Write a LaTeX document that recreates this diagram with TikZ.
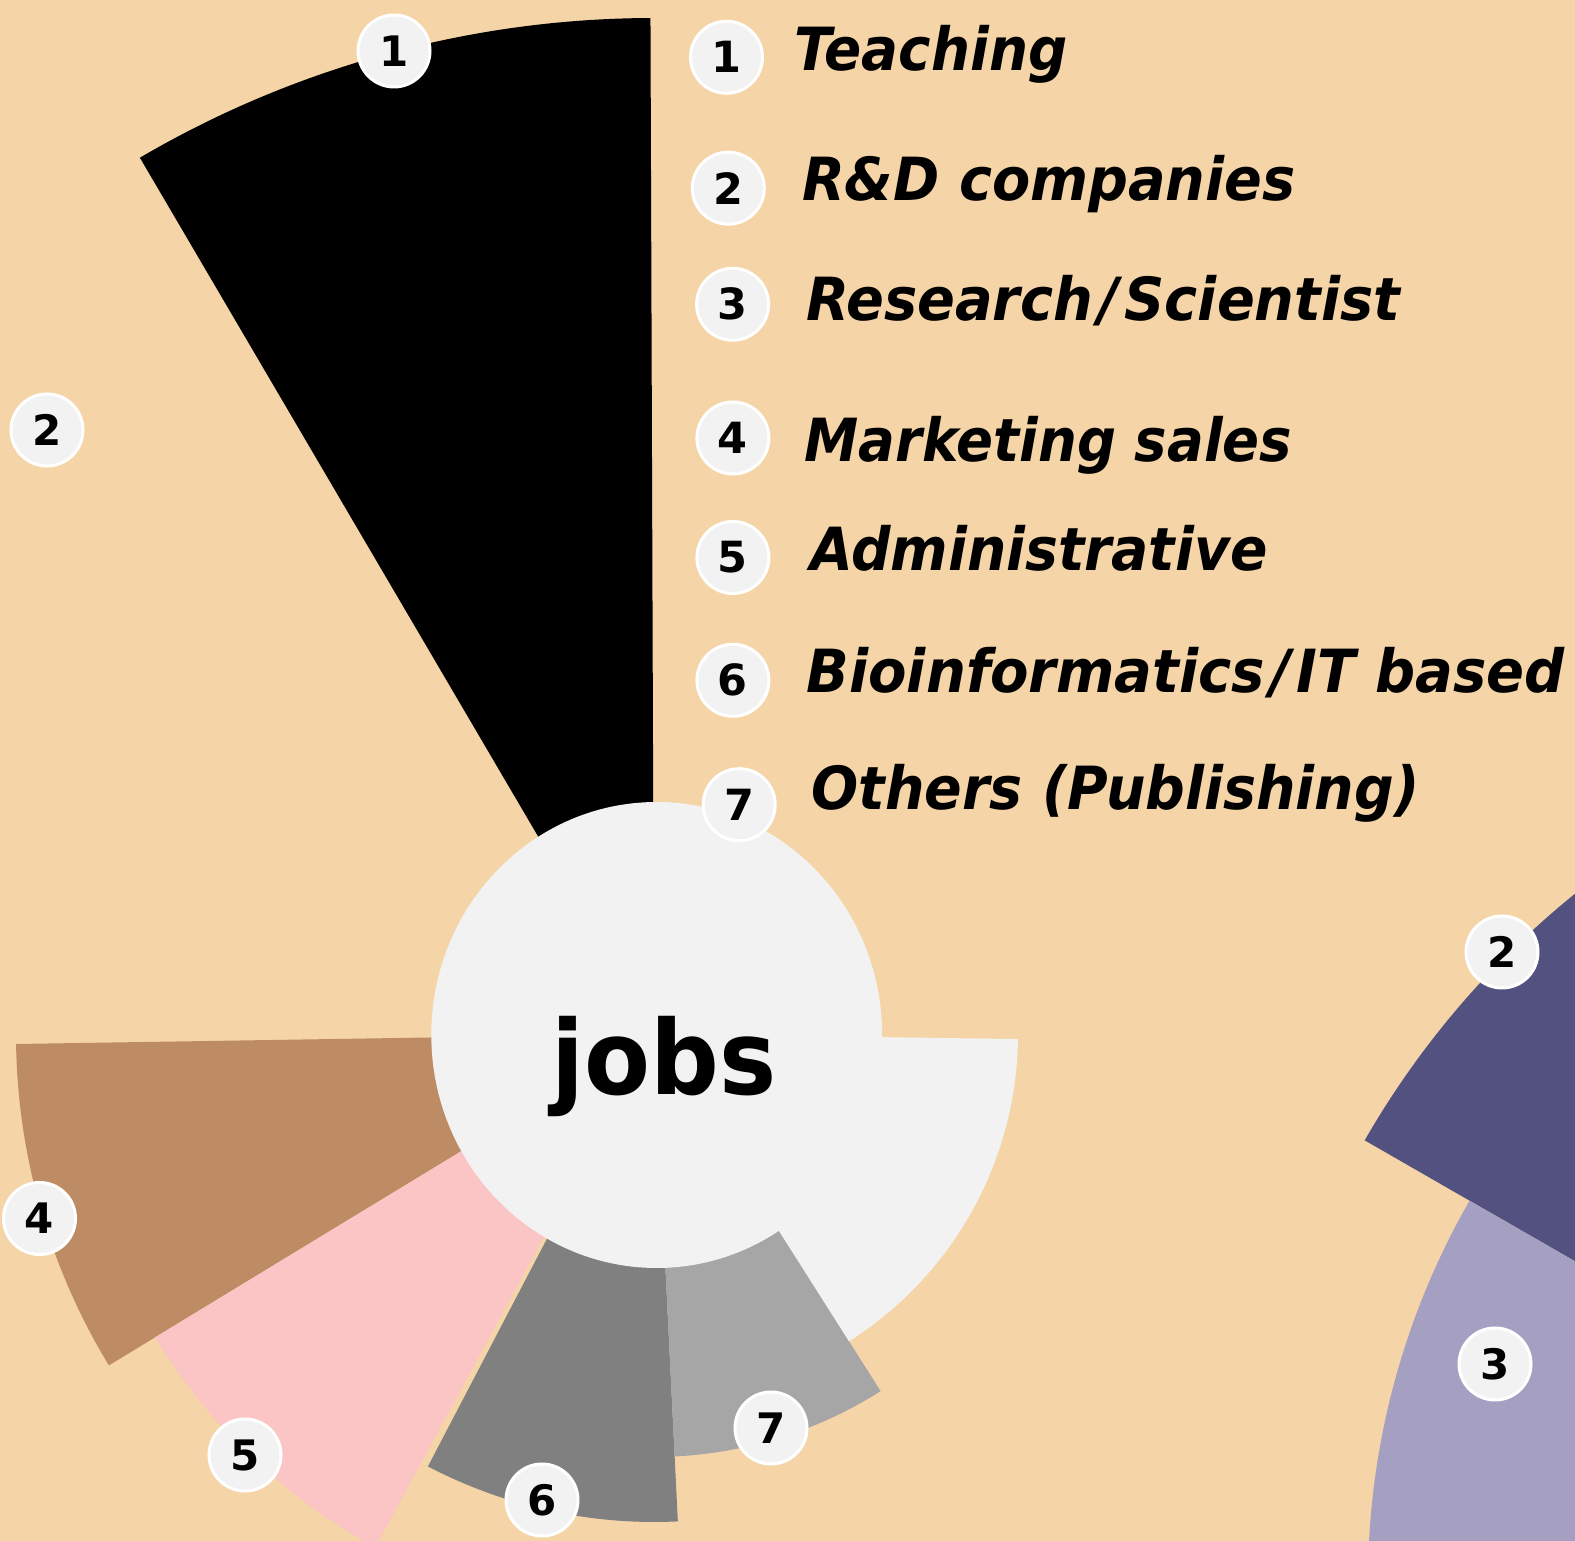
\documentclass[tikz,border=0pt]{standalone}
\usepackage{fontspec}
\usepackage{graphicx}
\newfontfamily\djv{DejaVu Sans}
\definecolor{bgc}{HTML}{F5D5A7}
\definecolor{lgc}{HTML}{F2F2F2}
\definecolor{brownc}{HTML}{BE8C64}
\definecolor{pinkc}{HTML}{FBC4C5}
\definecolor{dgrey}{HTML}{808080}
\definecolor{mgrey}{HTML}{A6A6A6}
\definecolor{dpurp}{HTML}{52517F}
\definecolor{lpurp}{HTML}{A5A0C1}
\newcommand\wslash{\kern3pt/\kern3pt}
\begin{document}
\begin{tikzpicture}[x=0.5pt,y=0.5pt,
  numlbl/.style={circle,fill=lgc,draw=white,line width=1.5pt,minimum size=36pt,inner sep=0pt,
    font=\djv\bfseries\fontsize{21pt}{21pt}\selectfont},
  leglbl/.style={numlbl,font=\djv\bfseries\fontsize{21.5pt}{21.5pt}\selectfont},
  legtext/.style={anchor=base west,inner sep=0pt,
    font=\djv\bfseries\itshape\fontsize{29.75pt}{30pt}\selectfont}]
\useasboundingbox (0,0) rectangle (1575,1541);
\fill[bgc] (0,0) rectangle (1575,1541);
\coordinate (C1) at (654,507);
\coordinate (C2) at (2131,-40);
\coordinate (E1) at (656.7,506);
% second chart, partly visible
\begin{scope}
\clip (0,0) rectangle (1575,1541);
\fill[dpurp] (C2) -- ++(120:884) arc[start angle=120,end angle=150.1,radius=884] -- cycle;
\fill[lpurp] (C2) -- ++(150.1:763) arc[start angle=150.1,end angle=180,radius=763] -- cycle;
% first chart
\fill[black] (C1) -- ++(90.2:1016) arc[start angle=90.2,end angle=120.4,radius=1016] -- cycle;
\fill[brownc] (C1) -- ++(180.9:638) arc[start angle=180.9,end angle=211.3,radius=638] -- cycle;
\fill[pinkc] (C1) -- ++(211.3:584) arc[start angle=211.3,end angle=241.5,radius=584] -- cycle;
\fill[dgrey] (C1) -- ++(242.4:488) arc[start angle=242.4,end angle=272.8,radius=488] -- cycle;
\fill[mgrey] (C1) -- ++(272.8:423) arc[start angle=272.8,end angle=302.4,radius=423] -- cycle;
\fill[lgc] (C1) -- ++(302.4:364) arc[start angle=302.4,end angle=359.2,radius=364] -- cycle;
\end{scope}
\fill[lgc] (E1) ellipse [x radius=225.4,y radius=233];
\node[anchor=base,inner sep=0pt,font=\djv\bfseries\fontsize{51.5pt}{52pt}\selectfont] (jobs) at (664,446.5) {\resizebox{112.5pt}{\height}{jobs}};
% chart labels
\node[numlbl] (p1) at (394,1490) {1};
\node[numlbl] (p2) at (47,1111) {2};
\node[numlbl] (p4) at (39.5,322.5) {4};
\node[numlbl] (p5) at (245,86) {5};
\node[numlbl] (p6) at (542,41) {6};
\node[numlbl] (p7) at (771,113) {7};
\node[numlbl] (q2) at (1502,589) {2};
\node[numlbl] (q3) at (1495,177) {3};
% legend
\node[leglbl] (l1) at (726.5,1483.7) {1};
\node[leglbl] (l2) at (728.3,1352.8) {2};
\node[leglbl] (l3) at (732.6,1236.7) {3};
\node[leglbl] (l4) at (732.9,1103) {4};
\node[leglbl] (l5) at (732.9,983.5) {5};
\node[leglbl] (l6) at (732.9,860.7) {6};
\node[leglbl] (l7) at (739.2,736.3) {7};
\node[legtext] (t1) at (794,1470) {\resizebox{136.5pt}{\height}{Teaching}};
\node[legtext] (t2) at (801.6,1340.3) {\resizebox{246.7pt}{\height}{R\&D companies}};
\node[legtext] (t3) at (805.6,1220.3) {\resizebox{297.2pt}{\height}{Research\wslash Scientist}};
\node[legtext] (t4) at (803.9,1079.3) {\resizebox{244pt}{\height}{Marketing sales}};
\node[legtext] (t5) at (809.6,970.3) {\resizebox{228.8pt}{\height}{Administrative}};
\node[legtext] (t6) at (806.2,848.3) {\resizebox{379.1pt}{\height}{Bioinformatics\wslash IT based}};
\node[legtext] (t7) at (811.4,731.7) {\resizebox{303.8pt}{\height}{Others (Publishing)}};
\end{tikzpicture}
\end{document}
